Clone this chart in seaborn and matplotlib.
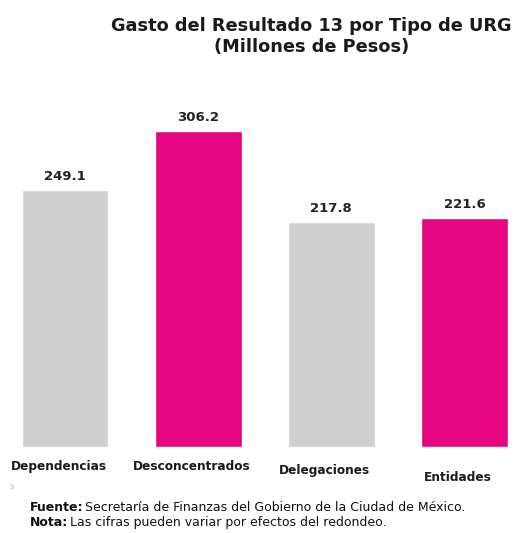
import seaborn as sns
import matplotlib.pyplot as plt
import matplotlib.transforms as mtransforms
import pandas as pd

categorias = ['Dependencias', 'Desconcentrados', 'Delegaciones', 'Entidades']
gasto = [249.1, 306.2, 217.8, 221.6]
colores = ['#cfcfd0', '#e5067f', '#cfcfd0', '#e5067f']
# desplazamiento vertical de cada etiqueta (puntos)
desfase_etiqueta = [-14, -14, -17, -22]

sns.set_style("white")
plt.rcParams['font.family'] = ['DejaVu Sans']

df = pd.DataFrame({'categoria': categorias, 'gasto': gasto})

fig = plt.figure(figsize=(5.15, 5.33), dpi=100)
ax = fig.add_axes([0.0, 0.161, 1.0, 0.651])

sns.barplot(x='categoria', y='gasto', data=df, hue='categoria',
            palette=colores, width=0.65, legend=False, ax=ax, saturation=1)

ax.set_xlim(-0.49, 3.38)
ax.set_ylim(0, 336)
ax.set_axis_off()

# valores sobre las barras
for i, v in enumerate(gasto):
    ax.annotate(f'{v:.1f}', (i, v), xytext=(0, 5), textcoords='offset points',
                ha='center', va='bottom', fontsize=9.5, fontweight='bold',
                color='#222222')

# etiquetas de categoría escalonadas
trans = mtransforms.blended_transform_factory(ax.transData, ax.transAxes)
for i, (c, d) in enumerate(zip(categorias, desfase_etiqueta)):
    ax.annotate(c, (i - 0.05, 0), xycoords=trans, xytext=(0, d),
                textcoords='offset points', ha='center', va='center',
                fontsize=8.7, fontweight='semibold', color='#1a1a1a')

fig.text(0.605, 0.952, 'Gasto del Resultado 13 por Tipo de URG',
         ha='center', va='center', fontsize=12.8, fontweight='bold', color='#1a1a1a')
fig.text(0.605, 0.911, '(Millones de Pesos)',
         ha='center', va='center', fontsize=12.8, fontweight='bold', color='#1a1a1a')

fig.text(0.018, 0.087, '$', fontsize=5, color='#bbbbbb', ha='left', va='center')

fs = 9
t = fig.text(0.058, 0.047, 'Fuente:', fontsize=fs, fontweight='bold',
             ha='left', va='center', color='#111111')
fig.canvas.draw()
bb = t.get_window_extent().transformed(fig.transFigure.inverted())
fig.text(bb.x1 + 0.004, 0.047, 'Secretaría de Finanzas del Gobierno de la Ciudad de México.',
         fontsize=fs, ha='left', va='center', color='#111111')
t2 = fig.text(0.058, 0.019, 'Nota:', fontsize=fs, fontweight='bold',
              ha='left', va='center', color='#111111')
fig.canvas.draw()
bb2 = t2.get_window_extent().transformed(fig.transFigure.inverted())
fig.text(bb2.x1 + 0.004, 0.019, 'Las cifras pueden variar por efectos del redondeo.',
         fontsize=fs, ha='left', va='center', color='#111111')

fig.savefig('out.png', dpi=100)
